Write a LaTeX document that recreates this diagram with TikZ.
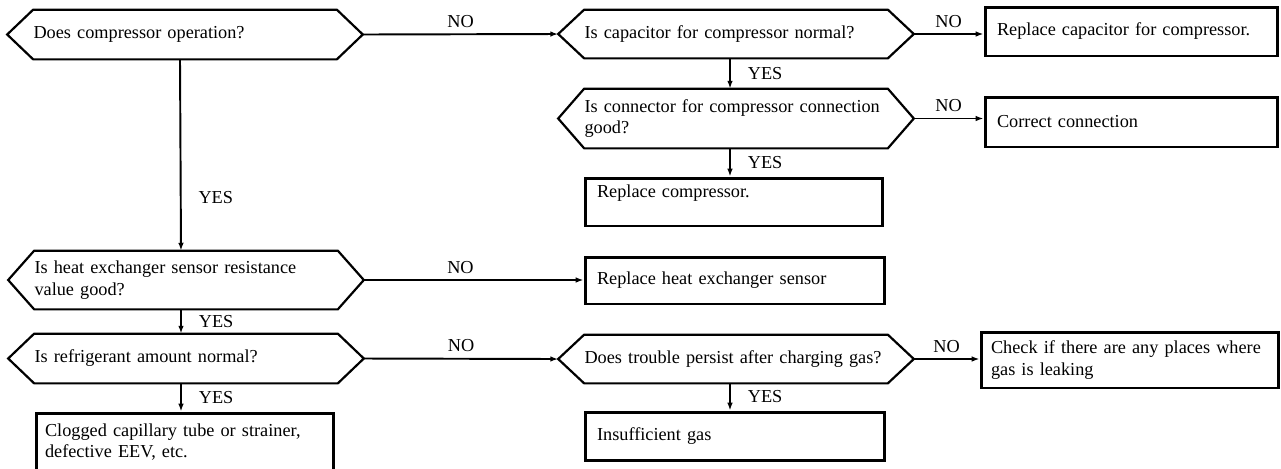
\documentclass[tikz,border=0pt]{standalone}
\usepackage{fontspec}
\setmainfont{Liberation Serif}
\usetikzlibrary{arrows.meta}

\begin{document}
\begin{tikzpicture}[
  x=0.02cm, y=-0.02cm,
  font=\fontsize{10.4pt}{12.4pt}\selectfont,
  ques/.style    = {rectangle, inner xsep=0pt, inner ysep=0pt,
                    text width=6.06cm, minimum width=6.06cm, align=left},
  act/.style     = {draw, line width=1.7pt, rectangle, inner xsep=0.24cm,
                    inner ysep=0pt, align=left},
  hexline/.style = {line width=1.25pt, line join=miter},
  arr/.style     = {-{Latex[length=4.5pt, width=3.2pt]}, line width=1.1pt},
  nlab/.style    = {midway, above},
  ylab/.style    = {midway, right, xshift=0.22cm},
]
\useasboundingbox (0,0) rectangle (1281,468);

%% questions
\node[ques, minimum height=0.98cm] (q1) at (185,  34.5) {Does compressor operation?};
\node[ques, minimum height=0.96cm] (q2) at (736,  34)   {Is capacitor for compressor normal?};
\node[ques, minimum height=1.18cm] (q3) at (736, 118.5) {Is connector for compressor connection\\good?};
\node[ques, minimum height=1.16cm] (q4) at (186, 280)   {Is heat exchanger sensor resistance\\value good?};
\node[ques, minimum height=0.98cm] (q5) at (186, 358.5) {Is refrigerant amount normal?};
\node[ques, minimum height=0.96cm] (q6) at (736, 359)   {Does trouble persist after charging gas?};

\foreach \q in {q1,q2,q3,q4,q5,q6}
  \draw[hexline] (\q.north west) -- (\q.north east)
    -- ([shift={(26,0)}]\q.east) coordinate (\q-r)
    -- (\q.south east) -- (\q.south west)
    -- ([shift={(-26,0)}]\q.west) coordinate (\q-l) -- cycle;

%% results
\node[act, text width=5.38cm, minimum height=0.98cm] (r1) at (1131.5, 31.5) {Replace capacitor for compressor.};
\node[act, text width=5.38cm, minimum height=1.00cm] (r2) at (1131.5,122)   {Correct connection};
\node[act, text width=5.48cm, minimum height=0.96cm] (r3) at (734, 202)     {Replace compressor.\\\mbox{}};
\node[act, text width=5.52cm, minimum height=0.94cm] (r4) at (735, 280.5)   {Replace heat exchanger sensor};
\node[act, text width=5.56cm, inner xsep=0.2cm, minimum height=1.12cm] (r5) at (1130,360) {Check if there are any places where\\gas is leaking};
\node[act, text width=5.52cm, minimum height=0.96cm] (r6) at (735, 436)     {Insufficient gas};
\node[act, text width=5.60cm, inner xsep=0.18cm, minimum height=1.16cm] (r7) at (185, 442) {Clogged capillary tube or strainer,\\defective EEV, etc.};

%% NO branches
\draw[arr] (q1-r) -- (q2-l) node[nlab] {NO};
\draw[arr] (q2-r) -- (q2-r -| r1.west) node[nlab] {NO};
\draw[arr] (q3-r) -- (q3-r -| r2.west) node[nlab] {NO};
\draw[arr] (q4-r) -- (q4-r -| r4.west) node[midway, above, pos=0.44] {NO};
\draw[arr] (q5-r) -- (q6-l) node[nlab] {NO};
\draw[arr] (q6-r) -- (q6-r -| r5.west) node[nlab] {NO};

%% YES branches
\draw[arr] ([shift={(-5,0)}]q1.south) -- ([shift={(-5,0)}]q4.north) node[ylab, pos=0.72] {YES};
\draw[arr] ([shift={(-5,0)}]q4.south) -- ([shift={(-5,0)}]q5.north) node[ylab] {YES};
\draw[arr] ([shift={(-5,0)}]q5.south) -- ([shift={(-5,0)}]q5.south |- r7.north) node[ylab] {YES};
\draw[arr] ([shift={(-6,0)}]q2.south) -- ([shift={(-6,0)}]q3.north) node[ylab] {YES};
\draw[arr] ([shift={(-6,0)}]q3.south) -- ([shift={(-6,0)}]q3.south |- r3.north) node[ylab] {YES};
\draw[arr] ([shift={(-6,0)}]q6.south) -- ([shift={(-6,0)}]q6.south |- r6.north) node[ylab] {YES};

\end{tikzpicture}
\end{document}
